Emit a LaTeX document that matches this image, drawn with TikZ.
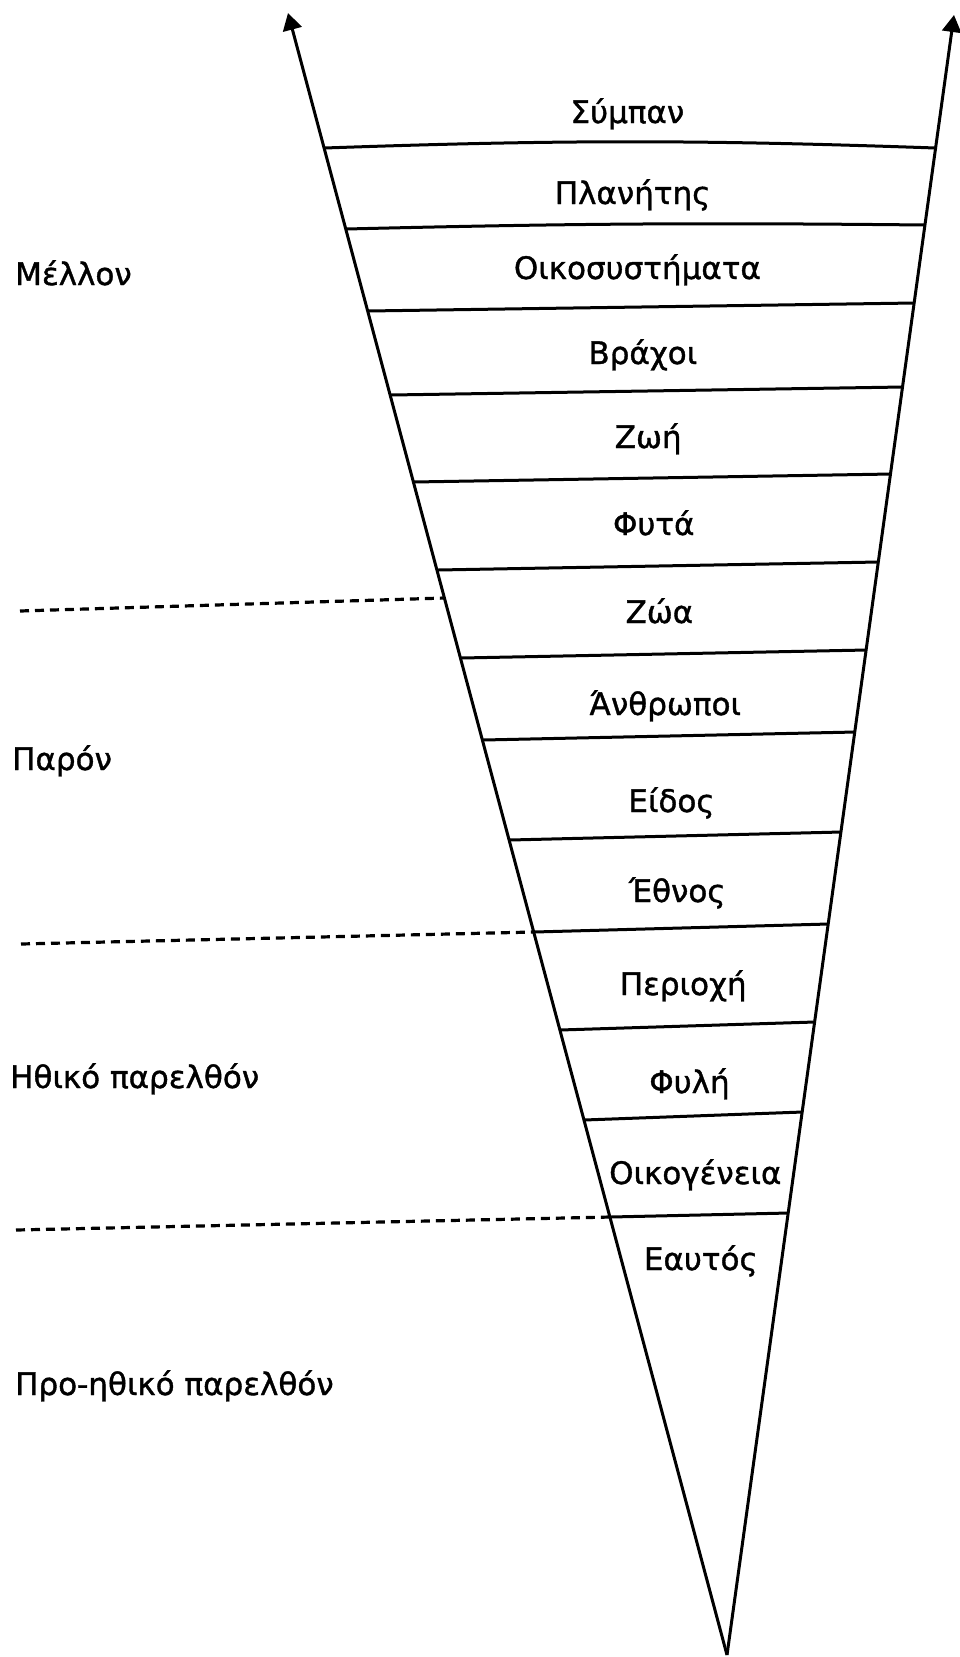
\documentclass[tikz,border=0pt]{standalone}
\usepackage{fontspec}
\setmainfont{DejaVu Sans}[FakeBold=1.2]
\usetikzlibrary{arrows.meta, calc}

\begin{document}
\begin{tikzpicture}[x=1pt, y=-1pt,
    edge/.style={line width=3pt, -{Triangle[length=17pt, width=19pt]}},
    band/.style={line width=3pt},
    era/.style={line width=3.2pt, dash pattern=on 9pt off 6pt},
    lvl/.style={font=\fontsize{31}{37}\selectfont, inner sep=0pt, anchor=base},
    period/.style={font=\fontsize{31}{37}\selectfont, inner sep=0pt, anchor=base west}]

    \useasboundingbox[fill=white] (0,0) rectangle (960,1657);

    % Cone
    \coordinate (apex) at (727,1655);
    \coordinate (ltip) at (288,13);
    \coordinate (rtip) at (954,15);
    \draw[edge] (apex) -- (ltip);
    \draw[edge] (apex) -- (rtip);

    % Band borders
    \foreach \i/\y/\d/\b in {1/148/0/2, 2/227/2/1, 3/307/4/0, 4/391/4/0, 5/478/4/0,
                             6/566/4/0, 7/654/4/0, 8/736/4/0, 9/836/4/0, 10/928/4/0,
                             11/1026/4/0, 12/1116/4/0, 13/1215/2/0} {
        \coordinate (l\i) at ($(apex)!{(1655-\y-\d)/1642}!(ltip)$);
        \coordinate (r\i) at ($(apex)!{(1655-\y+\d)/1640}!(rtip)$);
        \draw[band] (l\i) to[bend left=\b] (r\i);
    }

    % Levels
    \foreach \i/\y/\txt in {1/123/Σύμπαν, 2/204/Πλανήτης, 3/279/Οικοσυστήματα,
                            4/364/Βράχοι, 5/448/Ζωή, 6/535/Φυτά, 7/623/Ζώα,
                            8/715/Άνθρωποι, 9/812/Είδος, 10/902/Έθνος,
                            11/995/Περιοχή, 12/1093/Φυλή, 13/1184/Οικογένεια,
                            14/1270/Εαυτός} {
        \node[lvl] (t\i) at ({620.3+0.064*(\y-12)}, \y) {\txt};
    }

    % Eras
    \coordinate (e1) at ($(apex)!{(1655-598)/1642}!(ltip)$);
    \coordinate (s1) at (20,611);
    \coordinate (s2) at (21,944);
    \coordinate (s3) at (16,1230);
    \draw[era] (s1) -- (e1);
    \draw[era] (s2) -- (l10);
    \draw[era] (s3) -- (l13);

    \node[period] (future) at (15,285) {Μέλλον};
    \node[period] (present) at (12,770) {Παρόν};
    \node[period] (moral) at (10,1088) {Ηθικό παρελθόν};
    \node[period] (premoral) at (15,1395) {Προ-ηθικό παρελθόν};
\end{tikzpicture}
\end{document}
